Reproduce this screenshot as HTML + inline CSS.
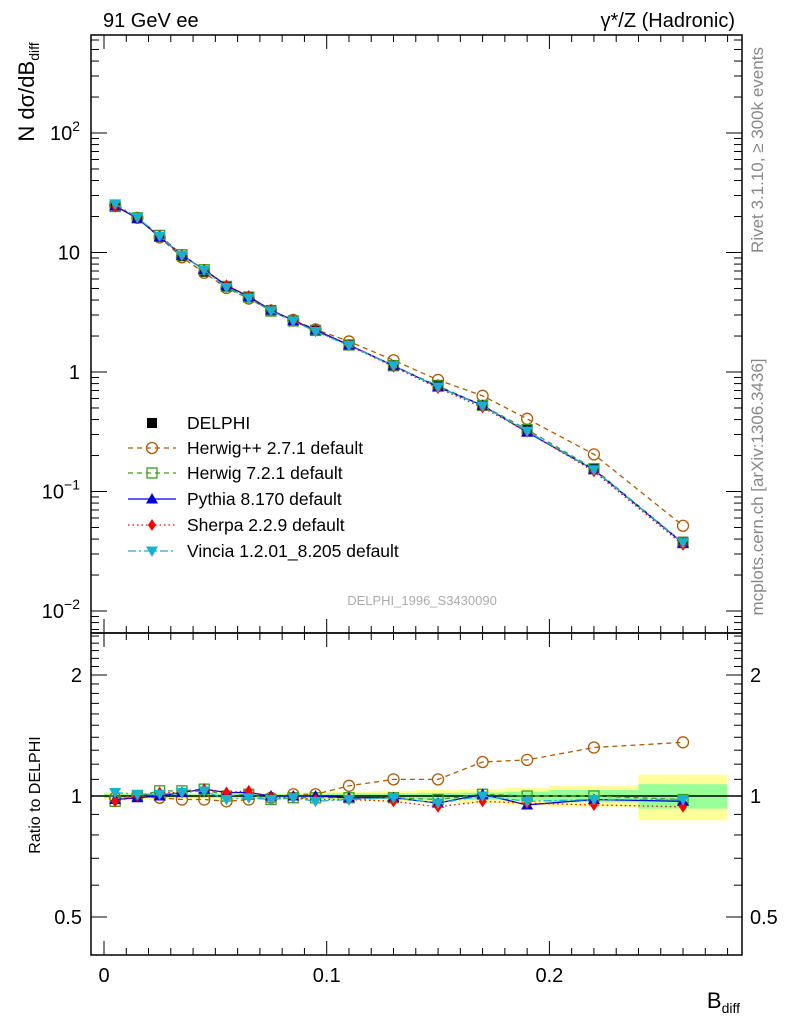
<!DOCTYPE html>
<html><head><meta charset="utf-8"><style>
body{margin:0;background:#fff}
svg{display:block;font-family:"Liberation Sans",sans-serif}
</style></head><body>
<svg id="c" width="786" height="1024" viewBox="0 0 786 1024" xmlns="http://www.w3.org/2000/svg"></svg>
<script>
const binLo=[0,0.01,0.02,0.03,0.04,0.05,0.06,0.07,0.08,0.09,0.10,0.12,0.14,0.16,0.18,0.20,0.24];
const binHi=[0.01,0.02,0.03,0.04,0.05,0.06,0.07,0.08,0.09,0.10,0.12,0.14,0.16,0.18,0.20,0.24,0.28];
const delphi=[25,19.5,13.5,9.3,6.9,5.2,4.2,3.3,2.7,2.25,1.7,1.14,0.78,0.52,0.33,0.155,0.038];
const statErr=[0.012,0.01,0.01,0.01,0.01,0.01,0.01,0.01,0.01,0.012,0.015,0.015,0.018,0.02,0.025,0.035,0.07];
const totErr=[0.02,0.018,0.018,0.018,0.018,0.018,0.018,0.018,0.018,0.02,0.025,0.03,0.035,0.04,0.05,0.06,0.13];
const rHerwigpp=[0.99,1.00,0.99,0.98,0.98,0.97,0.98,0.99,1.01,1.01,1.06,1.10,1.10,1.215,1.23,1.32,1.36];
const rHerwig7=[0.97,1.00,1.03,1.03,1.04,1.00,1.01,0.98,0.99,0.99,0.99,0.99,0.98,1.01,1.00,1.00,0.98];
const rPythia=[0.98,0.99,1.00,1.02,1.04,1.02,1.02,1.00,1.00,1.00,0.99,0.99,0.96,1.01,0.95,0.98,0.97];
const rSherpa=[0.97,1.00,1.02,1.02,1.04,1.02,1.03,0.99,0.99,0.98,0.98,0.97,0.94,0.97,0.96,0.95,0.94];
const rVincia=[1.02,1.01,1.01,1.02,1.03,0.98,0.99,0.98,0.99,0.97,0.98,0.99,0.96,1.00,0.97,0.98,0.98];
const xTicks=[0,0.1,0.2];
const xTickLabels=["0","0.1","0.2"];
const yTicks=[-2,-1,0,1,2];
const yTickBase=["10","10","1","10","10"];
const yTickExp=["\u22122","\u22121","","","2"];
const rTicks=[0.5,1,2];
const rTickLabels=["0.5","1","2"];

const S=document.getElementById('c'),NS='http://www.w3.org/2000/svg';
const L=91,R=742,T=35,M=633,B=955;
const X=v=>104+(v)*2227;
const Y=v=>372-Math.log10(v)*119.5;
const RY=v=>796-Math.log2(v)*121;
function el(tag,at,parent){const e=document.createElementNS(NS,tag);for(const k in at)e.setAttribute(k,at[k]);(parent||S).appendChild(e);return e;}
function txt(s,x,y,at,parent){const e=el('text',Object.assign({x:x,y:y,'font-size':20,fill:'#000'},at||{}),parent);e.textContent=s;return e;}

const gb=el('g',{});
for(let i=0;i<delphi.length;i++){
 const x0=X(binLo[i]),x1=X(binHi[i]);
 const y=el('rect',{x:x0,y:RY(1+totErr[i]),width:x1-x0,height:RY(1-totErr[i])-RY(1+totErr[i]),fill:'#ffff99'},gb);
 
 const g=el('rect',{x:x0,y:RY(1+statErr[i]),width:x1-x0,height:RY(1-statErr[i])-RY(1+statErr[i]),fill:'#99ff99'},gb);
 
}
const one=el('line',{x1:L,x2:R,y1:RY(1),y2:RY(1),stroke:'#000','stroke-width':1.5});


const cx=binLo.map((l,i)=>(l+binHi[i])/2);
function marker(g,type,x,y,col){
 let m;
 if(type==='circle')m=el('circle',{cx:x,cy:y,r:5.5,fill:'none',stroke:col,'stroke-width':1.3},g);
 else if(type==='square')m=el('rect',{x:x-5,y:y-5,width:10,height:10,fill:'none',stroke:col,'stroke-width':1.3},g);
 else if(type==='fsquare')m=el('rect',{x:x-5,y:y-5,width:10,height:10,fill:col},g);
 else if(type==='tri')m=el('polygon',{points:`${x},${y-6} ${x-6},${y+4.5} ${x+6},${y+4.5}`,fill:col},g);
 else if(type==='itri')m=el('polygon',{points:`${x},${y+6} ${x-6},${y-4.5} ${x+6},${y-4.5}`,fill:col},g);
 else m=el('polygon',{points:`${x},${y-6} ${x-4},${y} ${x},${y+6} ${x+4},${y}`,fill:col},g);
 
}
const series=[
 {name:'herwigpp',r:rHerwigpp,col:'#b35900',dash:'5,4',m:'circle',label:'Herwig++ 2.7.1 default'},
 {name:'herwig7',r:rHerwig7,col:'#3a9e1a',dash:'5,4',m:'square',label:'Herwig 7.2.1 default'},
 {name:'pythia',r:rPythia,col:'#0000e0',dash:'',m:'tri',label:'Pythia 8.170 default'},
 {name:'sherpa',r:rSherpa,col:'#ff0000',dash:'1.5,3',m:'diamond',label:'Sherpa 2.2.9 default'},
 {name:'vincia',r:rVincia,col:'#1ab0d0',dash:'8,3,2,3',m:'itri',label:'Vincia 1.2.01_8.205 default'}
];
const gd=el('g',{});
delphi.forEach((v,i)=>marker(gd,'fsquare',X(cx[i]),Y(v),'#000'));
series.forEach(s=>{
 const g=el('g',{});
 const pm=cx.map((x,i)=>X(x)+','+Y(delphi[i]*s.r[i])).join(' ');
 const p1=el('polyline',{points:pm,fill:'none',stroke:s.col,'stroke-width':1.3,'stroke-dasharray':s.dash},g);
 
 cx.forEach((x,i)=>marker(g,s.m,X(x),Y(delphi[i]*s.r[i]),s.col));
 const pr=cx.map((x,i)=>X(x)+','+RY(s.r[i])).join(' ');
 const p2=el('polyline',{points:pr,fill:'none',stroke:s.col,'stroke-width':1.3,'stroke-dasharray':s.dash},g);
 
 cx.forEach((x,i)=>marker(g,s.m,X(x),RY(s.r[i]),s.col));
});

const f1=el('rect',{x:L,y:T,width:R-L,height:M-T,fill:'none',stroke:'#000','stroke-width':1.5});

const f2=el('rect',{x:L,y:M,width:R-L,height:B-M,fill:'none',stroke:'#000','stroke-width':1.5});

const gx=el('g',{stroke:'#000','stroke-width':1});
for(let k=0;k<=28;k++){const v=k/100,x=X(v);if(x>R)break;const len=(k%10===0)?14:7;
 [T,M].forEach(y0=>el('line',{x1:x,x2:x,y1:y0,y2:y0+len},gx));
 [M,B].forEach(y0=>el('line',{x1:x,x2:x,y1:y0,y2:y0-len},gx));}
xTicks.forEach((v,i)=>{const t=txt(xTickLabels[i],X(v),982,{'text-anchor':'middle'});});
const gy=el('g',{stroke:'#000','stroke-width':1});
for(let d=-3;d<=2;d++)for(let m=1;m<10;m++){const y=Y(m*Math.pow(10,d));if(y<T||y>M)continue;const len=m===1?16:8;
 el('line',{x1:L,x2:L+len,y1:y,y2:y},gy);el('line',{x1:R,x2:R-len,y1:y,y2:y},gy);}
yTicks.forEach((v,i)=>{const t=el('text',{x:80,y:Y(Math.pow(10,v))+7,'font-size':20,'text-anchor':'end'});
 t.innerHTML=yTickBase[i]+(yTickExp[i]?'<tspan font-size="14" dy="-9">'+yTickExp[i]+'</tspan>':'');
 });
for(let v=0.4;v<=2.6;v+=0.1){const vv=Math.round(v*10)/10;const y=RY(vv);if(y<M||y>B)continue;const len=(vv===0.5||vv===1||vv===2)?16:8;
 el('line',{x1:L,x2:L+len,y1:y,y2:y},gy);el('line',{x1:R,x2:R-len,y1:y,y2:y},gy);}
rTicks.forEach((v,i)=>{const t=txt(rTickLabels[i],82,RY(v)+7,{'text-anchor':'end'});
 const t2=txt(rTickLabels[i],750,RY(v)+7);});

let t;
t=txt('91 GeV ee',103,27);
t=txt('γ*/Z (Hadronic)',735,27,{'text-anchor':'end'});
t=el('text',{x:0,y:0,'font-size':22,transform:'translate(34,92) rotate(-90)','text-anchor':'middle'});t.innerHTML='N dσ/dB<tspan font-size="14" dy="5">diff</tspan>';
t=txt('Ratio to DELPHI',0,0,{'font-size':16,transform:'translate(40,795) rotate(-90)','text-anchor':'middle'});
t=el('text',{x:740,y:1008,'font-size':22,'text-anchor':'end'});t.innerHTML='B<tspan font-size="14" dy="5">diff</tspan>';
t=txt('Rivet 3.1.10, ≥ 300k events',0,0,{'font-size':17,fill:'#888',transform:'translate(763,150) rotate(-90)','text-anchor':'middle'});
t=txt('mcplots.cern.ch [arXiv:1306.3436]',0,0,{'font-size':17,fill:'#888',transform:'translate(763,487) rotate(-90)','text-anchor':'middle'});
t=txt('DELPHI_1996_S3430090',422,605,{'font-size':13,fill:'#aaa','text-anchor':'middle'});

const lg=el('g',{});
const ly=[423,448,473,499,525,551];
marker(lg,'fsquare',152,ly[0],'#000');
t=txt('DELPHI',187,ly[0]+6,{'font-size':17.5},lg);
series.forEach((s,i)=>{const y=ly[i+1];
 const ln=el('line',{x1:128,x2:176,y1:y,y2:y,stroke:s.col,'stroke-width':1.3,'stroke-dasharray':s.dash},lg);
 
 marker(lg,s.m,152,y,s.col);
 const tt=txt(s.label,187,y+6,{'font-size':17.5},lg);});
</script>
</body></html>
